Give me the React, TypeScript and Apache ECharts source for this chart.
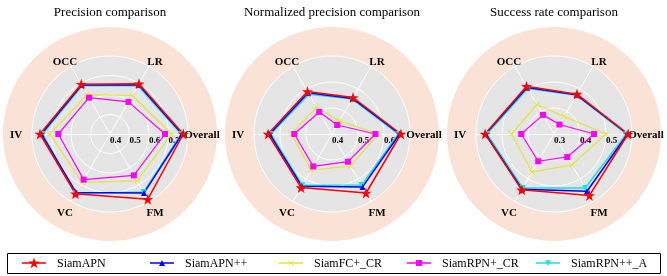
import React, { useEffect, useRef } from 'react';
import * as echarts from 'echarts';

const categories = ['Overall', 'LR', 'OCC', 'IV', 'VC', 'FM'];
const methods = ['SiamAPN', 'SiamAPN++', 'SiamFC+_CR', 'SiamRPN+_CR', 'SiamRPN++_A'];
const titles = ['Precision comparison', 'Normalized precision comparison', 'Success rate comparison'];
const axisMin = [0.4, 0.4, 0.3];
const axisMax = [0.8, 0.7, 0.6];
const axisSplits = [4, 3, 3];

// Precision
const precSiamAPN = [0.776, 0.697, 0.695, 0.759, 0.754, 0.787];
const precSiamAPNpp = [0.770, 0.692, 0.690, 0.752, 0.747, 0.749];
const precSiamFCCR = [0.716, 0.628, 0.633, 0.708, 0.687, 0.677];
const precSiamRPNCR = [0.682, 0.590, 0.615, 0.665, 0.670, 0.645];
const precSiamRPNppA = [0.765, 0.686, 0.685, 0.746, 0.752, 0.744];

// Normalized precision
const normSiamAPN = [0.665, 0.562, 0.589, 0.646, 0.638, 0.662];
const normSiamAPNpp = [0.660, 0.558, 0.583, 0.640, 0.632, 0.635];
const normSiamFCCR = [0.578, 0.458, 0.519, 0.556, 0.560, 0.543];
const normSiamRPNCR = [0.567, 0.440, 0.498, 0.545, 0.544, 0.523];
const normSiamRPNppA = [0.655, 0.555, 0.577, 0.635, 0.628, 0.627];

// Success rate
const succSiamAPN = [0.585, 0.477, 0.512, 0.565, 0.548, 0.573];
const succSiamAPNpp = [0.583, 0.474, 0.507, 0.563, 0.545, 0.554];
const succSiamFCCR = [0.500, 0.378, 0.431, 0.463, 0.469, 0.437];
const succSiamRPNCR = [0.454, 0.342, 0.385, 0.426, 0.421, 0.402];
const succSiamRPNppA = [0.578, 0.472, 0.502, 0.558, 0.540, 0.540];

const chartValues = [
  [precSiamAPN, precSiamAPNpp, precSiamFCCR, precSiamRPNCR, precSiamRPNppA],
  [normSiamAPN, normSiamAPNpp, normSiamFCCR, normSiamRPNCR, normSiamRPNppA],
  [succSiamAPN, succSiamAPNpp, succSiamFCCR, succSiamRPNCR, succSiamRPNppA],
];

const STAR = 'path://M50,0 L61.2,34.5 L97.6,34.5 L68.2,55.9 L79.4,90.5 L50,69.1 L20.6,90.5 L31.8,55.9 L2.4,34.5 L38.8,34.5 Z';
const XMARK = 'path://M0,1 L1,0 L5,4 L9,0 L10,1 L6,5 L10,9 L9,10 L5,6 L1,10 L0,9 L4,5 Z';
const TRI_DOWN = 'path://M0,0 L10,0 L5,9 Z';

const specks = 'M0,0 L0.05,0 L0.05,0.05 Z M24,12 L23.95,12 L23.95,11.95 Z ';
const bar = 'M0,5.3 L24,5.3 L24,6.7 L0,6.7 Z ';
const legendIcons = [
  'path://' + specks + bar + 'M12,0.5 L13.35,4.6 L17.7,4.6 L14.2,7.2 L15.5,11.3 L12,8.8 L8.5,11.3 L9.8,7.2 L6.3,4.6 L10.65,4.6 Z',
  'path://' + specks + bar + 'M12,3 L15,9 L9,9 Z',
  'path://' + specks + bar + 'M9,3.6 L9.6,3 L12,5.4 L14.4,3 L15,3.6 L12.6,6 L15,8.4 L14.4,9 L12,6.6 L9.6,9 L9,8.4 L11.4,6 Z',
  'path://' + specks + bar + 'M9,3 L15,3 L15,9 L9,9 Z',
  'path://' + specks + bar + 'M9,3.2 L15,3.2 L12,9 Z',
];
const legendLefts = [22, 150, 279, 407, 536];

const colors = ['#ff0000', '#0000ff', '#e4e43c', '#ff00ff', '#1ee0e0'];
const symbols = [STAR, 'triangle', XMARK, 'rect', TRI_DOWN];
const symbolSizes = [11, 6, 6, 6, 6];
const lineWidths = [1.5, 1.5, 1.2, 1.2, 1.5];
const drawOrder = [4, 2, 3, 1, 0];

const centersX = [110, 332, 554];
const centerY = 134;
const innerRadius = 78;
const outerRadius = 107;
const serif = 'Liberation Serif';

const nameKeys: Record<string, string> = { Overall: 'ov', LR: 'top', OCC: 'top', IV: 'iv', VC: 'bot', FM: 'bot' };

export default function App() {
  const ref = useRef<HTMLDivElement>(null);
  useEffect(() => {
    if (!ref.current) return;
    const chart = echarts.init(ref.current, null, { renderer: 'svg' });

    const peachRadars = centersX.map((cx) => ({
      center: [cx, centerY],
      radius: outerRadius,
      shape: 'circle',
      startAngle: 0,
      splitNumber: 1,
      indicator: categories.map(() => ({ name: '', min: 0, max: 1 })),
      axisName: { show: false },
      axisLine: { show: false },
      axisTick: { show: false },
      axisLabel: { show: false },
      splitLine: { show: false },
      splitArea: { show: true, areaStyle: { color: ['#fae3d6'] } },
      silent: true,
    }));

    const nameFont = { fontFamily: serif, fontWeight: 'bold', fontSize: 11, color: '#000' };
    const mainRadars = centersX.map((cx, ci) => ({
      center: [cx, centerY],
      radius: innerRadius,
      shape: 'circle',
      startAngle: 0,
      splitNumber: axisSplits[ci],
      nameGap: 12,
      indicator: categories.map((c, i) => {
        const ind: any = { name: c, min: axisMin[ci], max: axisMax[ci] };
        if (i === 0) {
          ind.axisLabel = {
            show: true,
            showMaxLabel: false,
            showMinLabel: true,
            align: 'left',
            verticalAlign: 'top',
            margin: -1,
            color: '#000',
            fontFamily: serif,
            fontWeight: 'bold',
            fontSize: 9,
            formatter: (v: number) => v.toFixed(1),
          };
        }
        return ind;
      }),
      axisName: {
        ...nameFont,
        align: 'center',
        verticalAlign: 'middle',
        formatter: (name: string) => '{' + nameKeys[name] + '|' + name + '}',
        rich: {
          ov: { ...nameFont, padding: [0, 0, 0, 4] },
          top: { ...nameFont, padding: [10, 0, 0, 0] },
          iv: { ...nameFont, padding: [0, 8, 0, 0] },
          bot: { ...nameFont, padding: [0, 0, 0, 0] },
        },
      },
      axisLine: { show: true, lineStyle: { color: '#ffffff', width: 1 } },
      axisTick: { show: false },
      axisLabel: { show: false },
      splitLine: { show: true, lineStyle: { color: '#ffffff', width: 1 } },
      splitArea: { show: true, areaStyle: { color: ['#e5e5e5'] } },
    }));

    const series = chartValues.map((vals, ci) => ({
      type: 'radar',
      radarIndex: 3 + ci,
      silent: true,
      emphasis: { disabled: true },
      data: drawOrder.map((mi) => ({
        name: methods[mi],
        value: vals[mi],
        symbol: symbols[mi],
        symbolSize: symbolSizes[mi],
        symbolKeepAspect: true,
        lineStyle: { color: colors[mi], width: lineWidths[mi] },
        itemStyle: { color: colors[mi], borderWidth: 0 },
      })),
    }));

    const legends = methods.map((m, i) => ({
      data: [{ name: m, icon: legendIcons[i], itemStyle: { color: colors[i], borderWidth: 0 } }],
      left: legendLefts[i],
      top: 257,
      padding: 0,
      orient: 'horizontal',
      itemWidth: 24,
      itemHeight: 12,
      selectedMode: false,
      itemStyle: { borderWidth: 0 },
      textStyle: { fontFamily: serif, fontSize: 12, color: '#000', padding: [0, 0, 0, 6] },
    }));

    chart.setOption({
      animation: false,
      title: titles.map((t, i) => ({
        text: t,
        left: centersX[i],
        top: 5,
        padding: 0,
        textAlign: 'center',
        textStyle: { fontFamily: serif, fontSize: 13, fontWeight: 'normal', color: '#000' },
      })),
      radar: [...peachRadars, ...mainRadars],
      legend: legends,
      graphic: [
        {
          type: 'rect',
          silent: true,
          shape: { x: 7.5, y: 253.5, width: 653, height: 20 },
          style: { fill: 'none', stroke: '#000', lineWidth: 1 },
        },
      ],
      series,
    });
    return () => chart.dispose();
  }, []);
  return <div ref={ref} style={{ position: 'fixed', left: 0, top: 0, width: 667, height: 276 }} />;
}
